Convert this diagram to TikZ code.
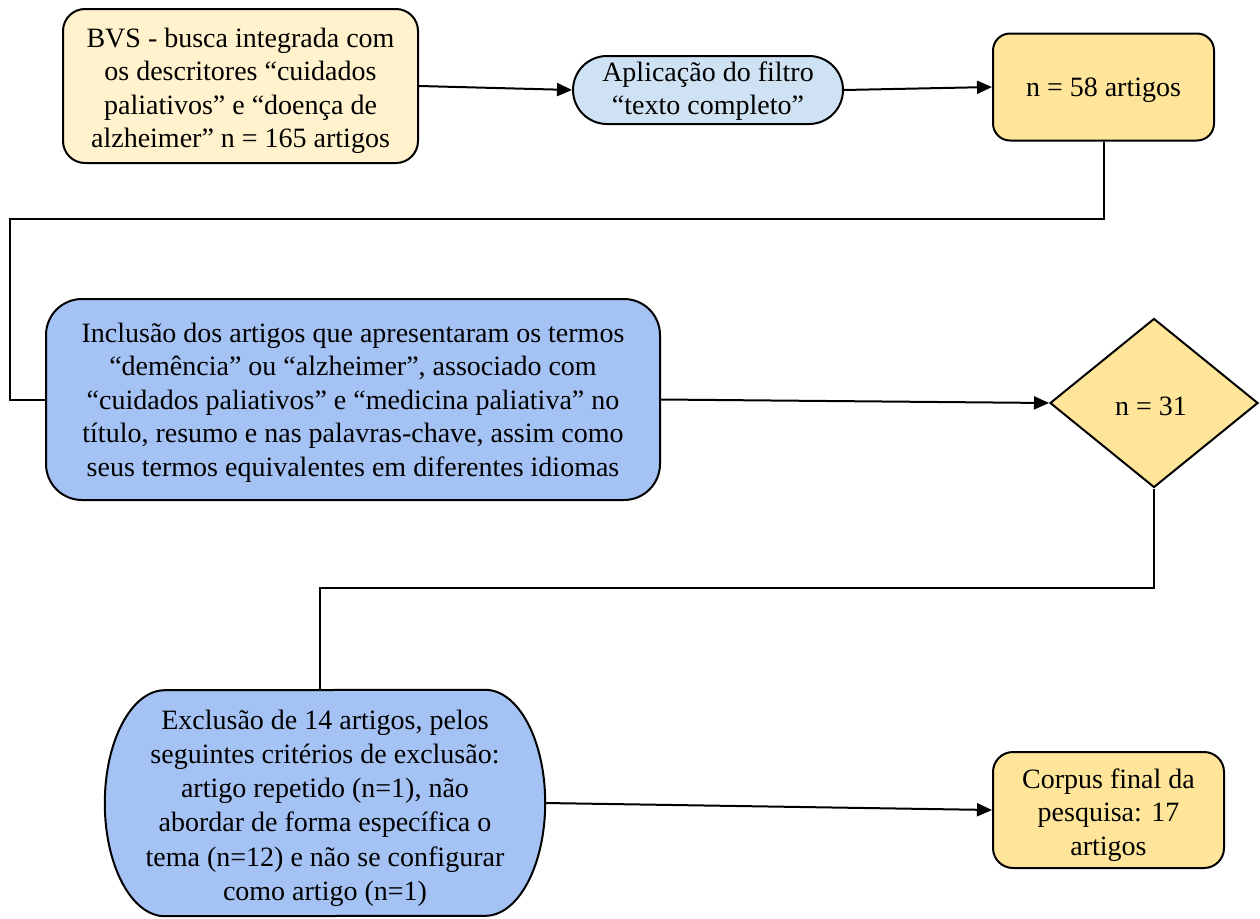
\documentclass[tikz,border=0pt]{standalone}
\usepackage{fontspec}
\setmainfont{Liberation Serif}
\usetikzlibrary{arrows.meta,shapes.misc,shapes.geometric,backgrounds}
\definecolor{paleyellow}{HTML}{FFF2CC}
\definecolor{paleblue}{HTML}{CFE2F3}
\definecolor{gold}{HTML}{FFE599}
\definecolor{midblue}{HTML}{A4C2F4}
\tikzset{
  base/.style={draw=black, line width=2pt, inner sep=0pt},
  roundbox/.style={base, rectangle, rounded corners=#1},
  lbl/.style={align=center, inner sep=0pt, font=\fontsize{28}{33.5}\selectfont},
  conn/.style={draw=black, line width=2pt},
  arr/.style={conn, -{Triangle[length=15pt,width=13pt]}},
}
\begin{document}
\begin{tikzpicture}[x=1pt,y=-1pt]
\useasboundingbox (0,0) rectangle (1260,918);

% shapes
\node[roundbox=22, fill=paleyellow, minimum width=355, minimum height=154] (bvs) at (240.5,86) {};
\node[base, rounded rectangle, fill=paleblue, minimum width=270, minimum height=68] (apl) at (708,90) {};
\node[roundbox=17, fill=gold, minimum width=221, minimum height=107] (n58) at (1103.5,87) {};
\node[roundbox=36, fill=midblue, minimum width=614, minimum height=201] (incl) at (353,399.5) {};
\node[base, diamond, aspect=1.23, fill=gold, minimum width=208, minimum height=169] (d31) at (1154,403) {};
\node[inner sep=0pt, minimum width=440, minimum height=226] (excl) at (325,803) {};
\draw[line width=2pt, line join=round, fill=midblue]
  ([xshift=-60pt]excl.north east)
  arc[start angle=90, end angle=0, x radius=60pt, y radius=113pt]
  arc[start angle=0, end angle=-90, x radius=60pt, y radius=113pt]
  -- ([xshift=60pt]excl.south west)
  arc[start angle=270, end angle=180, x radius=60pt, y radius=113pt]
  arc[start angle=180, end angle=90, x radius=60pt, y radius=113pt]
  -- cycle;
\node[roundbox=20, fill=gold, minimum width=231, minimum height=116] (corpus) at (1108.5,810) {};

% texts
\node[lbl] (bvs-t) at ([yshift=-5pt]bvs.center)
  {BVS - busca integrada com\\os descritores “cuidados\\paliativos” e “doença de\\alzheimer” n = 165 artigos};
\node[lbl] (apl-t) at ([yshift=-1pt]apl.center) {Aplicação do filtro\\“texto completo”};
\node[lbl] (n58-t) at ([yshift=-3pt]n58.center) {n = 58 artigos};
\node[lbl] (incl-t) at ([yshift=-3pt]incl.center)
  {Inclusão dos artigos que apresentaram os termos\\“demência” ou “alzheimer”, associado com\\“cuidados paliativos” e “medicina paliativa” no\\título, resumo e nas palavras-chave, assim como\\seus termos equivalentes em diferentes idiomas};
\node[lbl] (d31-t) at ([yshift=-3pt,xshift=-3pt]d31.center) {n = 31};
\node[lbl, font=\fontsize{28}{34.2}\selectfont] (excl-t) at ([yshift=-5pt]excl.center)
  {Exclusão de 14 artigos, pelos\\seguintes critérios de exclusão:\\artigo repetido (n=1), não\\abordar de forma específica o\\tema (n=12) e não se configurar\\como artigo (n=1)};
\node[lbl] (corpus-t) at ([yshift=-5pt]corpus.center) {Corpus final da\\pesquisa: 17\\artigos};

% connectors
\coordinate (k1) at (10,219);
\coordinate (k2) at (320,588);

\draw[arr] (bvs.east) -- (apl.west);
\draw[arr] (apl.east) -- (n58.west);
\draw[conn] (n58.south) |- (k1) |- (incl.west);
\draw[arr] (incl.east) -- (d31.west);
\draw[conn] (d31.south) |- (k2) -- (k2 |- excl.north);
\draw[arr] (excl.east) -- (corpus.west);
\end{tikzpicture}
\end{document}
